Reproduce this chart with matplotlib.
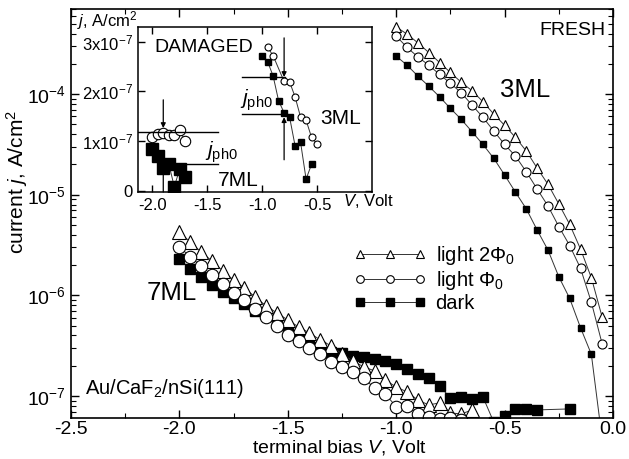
import matplotlib
matplotlib.use('Agg')
import matplotlib.pyplot as plt
from matplotlib.lines import Line2D
from matplotlib.ticker import LogLocator, FixedLocator, NullFormatter

plt.rcParams['font.family'] = ['Liberation Sans', 'DejaVu Sans']
plt.rcParams['mathtext.fontset'] = 'custom'
plt.rcParams['mathtext.rm'] = 'Liberation Sans'
plt.rcParams['mathtext.it'] = 'Liberation Sans:italic'
plt.rcParams['mathtext.bf'] = 'Liberation Sans:bold'
plt.rcParams['axes.unicode_minus'] = False

# ---- FRESH, 3 ML (A/cm^2)
v_3ml = [-1.00, -0.95, -0.90, -0.85, -0.80, -0.75, -0.70, -0.65, -0.60, -0.55,
         -0.50, -0.45, -0.40, -0.35, -0.30, -0.25, -0.20, -0.15, -0.10, -0.05]
j_3ml_2phi = [4.65e-4, 3.94e-4, 3.23e-4, 2.59e-4, 2.06e-4, 1.64e-4, 1.31e-4, 1.08e-4, 8.39e-5, 6.33e-5,
              4.89e-5, 3.71e-5, 2.72e-5, 1.84e-5, 1.27e-5, 8.09e-6, 5.08e-6, 2.89e-6, 1.50e-6, 6.07e-7]
j_3ml_phi = [3.77e-4, 2.91e-4, 2.34e-4, 1.94e-4, 1.57e-4, 1.28e-4, 1.03e-4, 7.78e-5, 5.87e-5, 4.30e-5,
             3.16e-5, 2.42e-5, 1.69e-5, 1.14e-5, 7.73e-6, 4.83e-6, 3.13e-6, 1.86e-6, 8.55e-7, 3.29e-7]
j_3ml_dark = [2.38e-4, 1.94e-4, 1.51e-4, 1.20e-4, 9.40e-5, 7.21e-5, 5.61e-5, 4.22e-5, 3.16e-5, 2.30e-5,
              1.57e-5, 1.06e-5, 7.24e-6, 4.46e-6, 2.82e-6, 1.53e-6, 9.35e-7, 4.78e-7, 2.60e-7, 3.7e-8]

# ---- FRESH, 7 ML
v_7ml_2phi = [-2.00, -1.95, -1.90, -1.85, -1.80, -1.75, -1.70, -1.65, -1.60, -1.55,
              -1.50, -1.45, -1.40, -1.35, -1.30, -1.25, -1.20, -1.15, -1.10, -1.05,
              -1.00, -0.95, -0.90, -0.85, -0.80, -0.75, -0.70, -0.65]
j_7ml_2phi = [4.26e-6, 3.39e-6, 2.70e-6, 2.20e-6, 1.75e-6, 1.42e-6, 1.18e-6, 9.63e-7, 7.85e-7, 6.69e-7,
              5.70e-7, 4.86e-7, 4.23e-7, 3.61e-7, 3.15e-7, 2.62e-7, 2.23e-7, 1.95e-7, 1.78e-7, 1.44e-7,
              1.23e-7, 1.10e-7, 9.14e-8, 8.16e-8, 8.55e-8, 6.79e-8, 6.64e-8, 7.28e-8]
v_7ml_phi = [-2.00, -1.95, -1.90, -1.85, -1.80, -1.75, -1.70, -1.65, -1.60, -1.55,
             -1.50, -1.45, -1.40, -1.35, -1.30, -1.25, -1.20, -1.15, -1.10, -1.05,
             -1.00, -0.95, -0.90, -0.85, -0.80, -0.75, -0.70]
j_7ml_phi = [3.03e-6, 2.41e-6, 1.96e-6, 1.59e-6, 1.30e-6, 1.06e-6, 9.00e-7, 7.32e-7, 6.10e-7, 4.97e-7,
             4.04e-7, 3.52e-7, 3.00e-7, 2.62e-7, 2.18e-7, 1.95e-7, 1.73e-7, 1.51e-7, 1.20e-7, 1.05e-7,
             7.80e-8, 7.98e-8, 6.64e-8, 6.20e-8, 5.93e-8, 6.06e-8, 5.80e-8]
v_7ml_dark = [-2.00, -1.95, -1.90, -1.85, -1.80, -1.75, -1.70, -1.65, -1.60, -1.55,
              -1.50, -1.45, -1.40, -1.35, -1.30, -1.25, -1.20, -1.15, -1.10, -1.05,
              -1.00, -0.95, -0.90, -0.85, -0.80, -0.75, -0.70, -0.65, -0.60, -0.55,
              -0.50, -0.45, -0.40, -0.35, -0.20]
j_7ml_dark = [2.30e-6, 1.83e-6, 1.52e-6, 1.27e-6, 1.08e-6, 9.42e-7, 8.22e-7, 7.00e-7, 6.53e-7, 5.44e-7,
              4.64e-7, 4.04e-7, 3.52e-7, 3.08e-7, 2.74e-7, 2.68e-7, 2.50e-7, 2.44e-7, 2.33e-7, 2.23e-7,
              2.08e-7, 1.86e-7, 1.66e-7, 1.51e-7, 1.26e-7, 9.57e-8, 9.79e-8, 9.35e-8, 9.79e-8, 5.5e-8,
              6.3e-8, 7.45e-8, 7.45e-8, 7.28e-8, 7.45e-8]

# ---- DAMAGED inset (units of 1e-7 A/cm^2)
v_in3_phi = [-0.95, -0.90, -0.80, -0.75, -0.70, -0.65, -0.60, -0.55, -0.50]
j_in3_phi = [2.89, 2.72, 2.20, 2.19, 1.89, 1.48, 1.42, 1.07, 0.94]
v_in3_dark = [-1.00, -0.95, -0.90, -0.85, -0.80, -0.75, -0.70, -0.65, -0.60, -0.55]
j_in3_dark = [2.72, 2.60, 2.31, 1.81, 1.57, 1.48, 0.90, 0.97, 0.23, 0.53]
v_in7 = [-2.00, -1.95, -1.90, -1.85, -1.80, -1.75, -1.70]
j_in7_phi = [1.09, 1.14, 1.16, 1.12, 1.12, 1.22, 0.99]
j_in7_dark = [0.83, 0.70, 0.45, 0.54, 0.08, 0.43, 0.27]

lc = '#333333'
lw = 0.7

fig = plt.figure(figsize=(6.29, 4.59), dpi=100)
ax = fig.add_axes([0.1129, 0.0893, 0.8617, 0.891])

# 3ML curves (small symbols)
ax.plot(v_3ml, j_3ml_2phi, color=lc, lw=lw, marker='^', ms=7, mfc='white', mec='black', mew=0.8)
ax.plot(v_3ml, j_3ml_phi, color=lc, lw=lw, marker='o', ms=6.5, mfc='white', mec='black', mew=0.8)
ax.plot(v_3ml, j_3ml_dark, color=lc, lw=lw, marker='s', ms=5, mfc='black', mec='black')
# 7ML curves (larger symbols)
ax.plot(v_7ml_dark, j_7ml_dark, color=lc, lw=lw, marker='s', ms=7.5, mfc='black', mec='black')
ax.plot(v_7ml_2phi, j_7ml_2phi, color=lc, lw=lw, marker='^', ms=9.5, mfc='white', mec='black', mew=0.8)
ax.plot(v_7ml_phi, j_7ml_phi, color=lc, lw=lw, marker='o', ms=9, mfc='white', mec='black', mew=0.8)

ax.set_yscale('log')
ax.set_xlim(-2.5, 0.0)
ax.set_ylim(6.05e-8, 7.0e-4)
ax.set_xticks([-2.5, -2.0, -1.5, -1.0, -0.5, 0.0])
ax.set_xticklabels(['-2.5', '-2.0', '-1.5', '-1.0', '-0.5', '0.0'])
ax.xaxis.set_minor_locator(FixedLocator([-2.25, -1.75, -1.25, -0.75, -0.25]))
ax.yaxis.set_major_locator(LogLocator(base=10, numticks=10))
ax.yaxis.set_minor_locator(LogLocator(base=10, subs=range(2, 10), numticks=50))
ax.yaxis.set_minor_formatter(NullFormatter())
ax.tick_params(which='both', direction='in', top=True, right=True, labelsize=14)
ax.tick_params(axis='x', pad=2.5)
ax.tick_params(which='major', length=6, width=1)
ax.tick_params(which='minor', length=3.5, width=0.8)
for s in ax.spines.values():
    s.set_linewidth(1.2)

ax.set_xlabel('terminal bias $V$, Volt', fontsize=14, va='top')
ax.xaxis.set_label_coords(0.496, -0.049)
ax.set_ylabel('current $j$, A/cm$^2$', fontsize=15)
ax.yaxis.set_label_coords(-0.076, 0.577)

ax.text(-0.035, 4.33e-4, 'FRESH', fontsize=14, ha='right', va='center')
ax.text(-0.521, 1.1e-4, '3ML', fontsize=18.5, ha='left', va='center')
ax.text(-2.149, 1.06e-6, '7ML', fontsize=18.5, ha='left', va='center')
ax.text(-2.435, 1.2e-7, 'Au/CaF$_2$/nSi(111)', fontsize=14.5, ha='left', va='center')

handles = [
    Line2D([], [], color=lc, lw=lw, marker='^', ms=5.5, mfc='white', mec='black', mew=0.8),
    Line2D([], [], color=lc, lw=lw, marker='o', ms=5.5, mfc='white', mec='black', mew=0.8),
    Line2D([], [], color=lc, lw=lw, marker='s', ms=5.5, mfc='black', mec='black'),
]
ax.legend(handles, ['light $2\\Phi_0$', 'light $\\Phi_0$', 'dark'], loc='upper left',
          bbox_to_anchor=(0.5628, 0.4684), bbox_transform=fig.transFigure,
          frameon=False, numpoints=3, fontsize=14.5, handlelength=3.6,
          handletextpad=0.45, labelspacing=0.1, borderpad=0, borderaxespad=0)

# ---- inset
ai = fig.add_axes([0.2194, 0.5817, 0.372, 0.3595])
ai.set_facecolor('white')
ai.plot(v_in3_dark, j_in3_dark, color=lc, lw=lw, marker='s', ms=5, mfc='black', mec='black')
ai.plot(v_in3_phi, j_in3_phi, color=lc, lw=lw, marker='o', ms=5, mfc='white', mec='black', mew=0.8)
ai.plot(v_in7, j_in7_dark, color=lc, lw=lw, marker='s', ms=8, mfc='black', mec='black')
ai.plot(v_in7, j_in7_phi, color=lc, lw=lw, marker='o', ms=7.5, mfc='white', mec='black', mew=0.8)

# j_ph0 markers: reference levels and arrows
arrow = dict(arrowstyle='-|>', color='black', lw=0.9, mutation_scale=7, shrinkA=0, shrinkB=0)
ai.plot([-1.18, -0.79], [2.29, 2.29], color='black', lw=1)
ai.plot([-1.18, -0.81], [1.55, 1.55], color='black', lw=1)
ai.annotate('', xy=(-0.80, 2.29), xytext=(-0.80, 3.08), arrowprops=arrow)
ai.annotate('', xy=(-0.80, 1.48), xytext=(-0.80, 0.62), arrowprops=arrow)
ai.plot([-2.13, -1.40], [1.18, 1.18], color='black', lw=1)
ai.plot([-1.95, -1.40], [0.54, 0.54], color='black', lw=1)
ai.annotate('', xy=(-1.90, 1.26), xytext=(-1.90, 1.83), arrowprops=arrow)
ai.annotate('', xy=(-1.90, 0.47), xytext=(-1.90, -0.03), arrowprops=arrow)

ai.set_xlim(-2.13, 0.0)
ai.set_ylim(-0.03, 3.3)
ai.set_xticks([-2.0, -1.5, -1.0, -0.5])
ai.set_xticklabels(['-2.0', '-1.5', '-1.0', '-0.5'])
ai.set_yticks([0, 1, 2, 3])
ai.set_yticklabels(['0', '1x10$^{-7}$', '2x10$^{-7}$', '3x10$^{-7}$'])
ai.tick_params(direction='in', top=True, right=True, labelsize=12, length=5, width=1, pad=4)
for s in ai.spines.values():
    s.set_linewidth(1.1)

ai.text(-1.979, 2.88, 'DAMAGED', fontsize=14, ha='left', va='center')
ai.text(-0.469, 1.46, '3ML', fontsize=15, ha='left', va='center')
ai.text(-1.40, 0.21, '7ML', fontsize=15, ha='left', va='center')
ai.text(-1.20, 1.83, '$j_{\\rm ph0}$', fontsize=15, ha='left', va='center')
ai.text(-1.52, 0.78, '$j_{\\rm ph0}$', fontsize=15, ha='left', va='center')
ai.text(-0.26, -0.21, '$V$, Volt', fontsize=12, ha='left', va='center', clip_on=False)
fig.text(0.1224, 0.956, '$j$, A/cm$^2$', fontsize=12, ha='left', va='center')

fig.savefig('out.png', dpi=100)
